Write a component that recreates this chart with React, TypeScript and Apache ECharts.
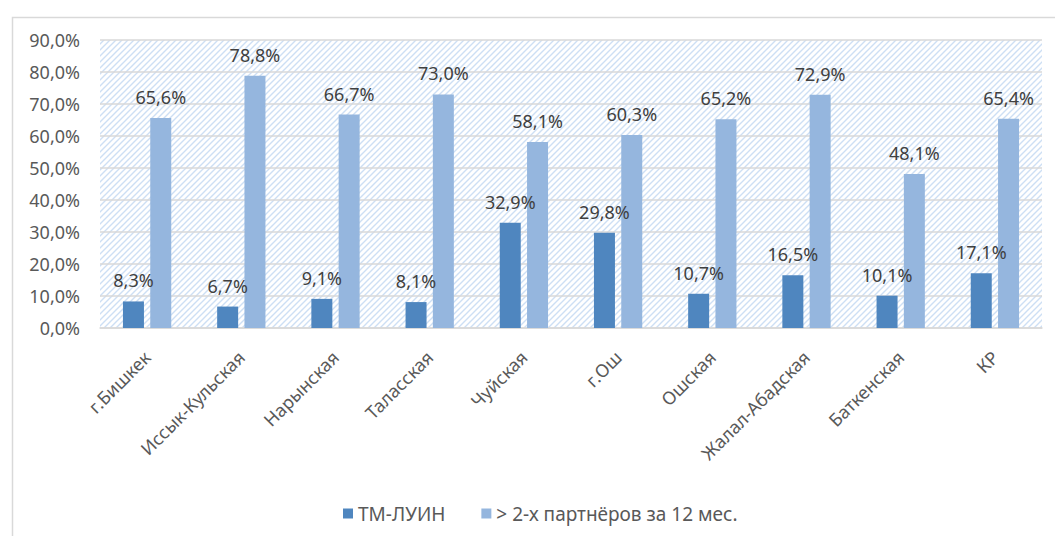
import React, { useEffect, useRef } from "react";
import * as echarts from "echarts";

const categories = [
  "г.Бишкек",
  "Иссык-Кульская",
  "Нарынская",
  "Таласская",
  "Чуйская",
  "г.Ош",
  "Ошская",
  "Жалал-Абадская",
  "Баткенская",
  "КР",
];
const seriesNames = ["ТМ-ЛУИН", "> 2-х партнёров за 12 мес."];
const tmLuin = [8.3, 6.7, 9.1, 8.1, 32.9, 29.8, 10.7, 16.5, 10.1, 17.1];
const partners = [65.6, 78.8, 66.7, 73.0, 58.1, 60.3, 65.2, 72.9, 48.1, 65.4];

const fmt = (v: number) => v.toFixed(1).replace(".", ",") + "%";

function makeHatch(): HTMLCanvasElement {
  const c = document.createElement("canvas");
  const s = 6;
  c.width = s;
  c.height = s;
  const ctx = c.getContext("2d")!;
  ctx.fillStyle = "#ffffff";
  ctx.fillRect(0, 0, s, s);
  ctx.strokeStyle = "#cddff4";
  ctx.lineWidth = 1.4;
  ctx.beginPath();
  ctx.moveTo(-1, s + 1);
  ctx.lineTo(s + 1, -1);
  ctx.moveTo(-1, 1);
  ctx.lineTo(1, -1);
  ctx.moveTo(s - 1, s + 1);
  ctx.lineTo(s + 1, s - 1);
  ctx.stroke();
  return c;
}

export default function App() {
  const ref = useRef<HTMLDivElement>(null);
  useEffect(() => {
    if (!ref.current) return;
    const chart = echarts.init(ref.current, undefined, { renderer: "svg" });
    const font = "'Noto Sans', sans-serif";
    chart.setOption({
      animation: false,
      backgroundColor: "#ffffff",
      textStyle: { fontFamily: font },
      graphic: [
        {
          type: "rect",
          left: 10,
          top: 15,
          shape: { x: 0, y: 0, width: 1100, height: 600 },
          style: { fill: "none", stroke: "#d9d9d9", lineWidth: 1.5 },
          silent: true,
          z: -10,
        },
      ],
      grid: {
        left: 100,
        right: 13,
        top: 40,
        bottom: 208,
        show: true,
        borderWidth: 0,
        backgroundColor: { image: makeHatch(), repeat: "repeat" },
      },
      legend: {
        left: 338,
        top: 499,
        itemWidth: 10,
        itemHeight: 10,
        itemGap: 36,
        icon: "rect",
        textStyle: { fontSize: 19, color: "#595959", fontFamily: font },
        data: seriesNames,
      },
      xAxis: {
        type: "category",
        data: categories,
        axisLine: { show: true, lineStyle: { color: "#d9d9d9", width: 1.5 } },
        axisTick: { show: false },
        axisLabel: {
          interval: 0,
          rotate: 45,
          margin: 26,
          fontSize: 18,
          color: "#595959",
          fontFamily: font,
        },
      },
      yAxis: {
        type: "value",
        min: 0,
        max: 90,
        interval: 10,
        axisLine: { show: false },
        axisTick: { show: false },
        splitLine: { lineStyle: { color: "#d9d9d9", width: 1.5 } },
        axisLabel: {
          formatter: (v: number) => fmt(v),
          fontSize: 18,
          color: "#595959",
          margin: 20,
          fontFamily: font,
        },
      },
      series: [
        {
          name: seriesNames[0],
          type: "bar",
          data: tmLuin,
          barWidth: 21,
          barGap: "30%",
          itemStyle: { color: "#4f86bf" },
          label: {
            show: true,
            position: "top",
            distance: 12,
            formatter: (p: any) => fmt(p.value),
            fontSize: 18,
            color: "#404040",
            fontFamily: font,
          },
        },
        {
          name: seriesNames[1],
          type: "bar",
          data: partners,
          barWidth: 21,
          itemStyle: { color: "#95b6de" },
          label: {
            show: true,
            position: "top",
            distance: 12,
            formatter: (p: any) => fmt(p.value),
            fontSize: 18,
            color: "#404040",
            fontFamily: font,
          },
        },
      ],
    });
    return () => chart.dispose();
  }, []);
  return (
    <div
      ref={ref}
      style={{ position: "fixed", left: 0, top: 0, width: 1055, height: 536 }}
    />
  );
}
